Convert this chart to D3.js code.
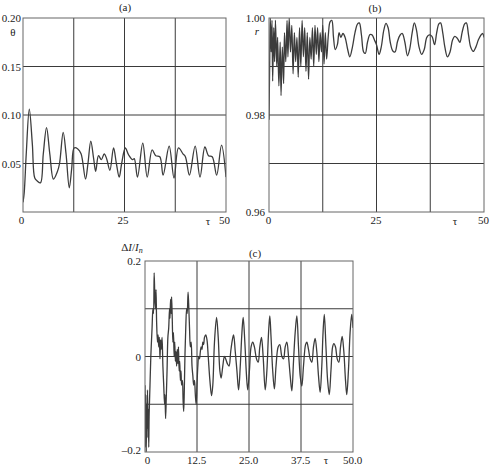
<!DOCTYPE html>
<html><head><meta charset="utf-8">
<script src="https://cdn.jsdelivr.net/npm/d3@7"></script>
<style>
html,body{margin:0;padding:0;background:#fff;}
svg{display:block;}
text{font-family:"Liberation Serif","Times New Roman",serif;font-size:11px;fill:#222;}
</style></head>
<body>
<svg id="chart" width="492" height="468" font-family="Liberation Serif, Times New Roman, serif"></svg>
<script>
// ---------- DATA ----------
// Panel (a): theta vs tau
const aTau = [0,0.3,0.8,1.55,2.3,2.9,3.5,4.3,5.0,5.8,6.6,7.5,8.5,9.0,9.9,10.6,11.4,12.0,12.6,13.5,14.3,15.4,16.0,16.7,17.4,17.9,18.6,19.3,20.0,20.6,21.4,22.3,23.0,23.7,24.3,25.2,26.0,27.0,27.4,28.2,29.5,30.6,31.8,32.7,33.7,34.5,36.0,37.2,38.3,39.4,40.0,41.0,42.4,43.6,44.8,45.7,46.6,47.7,48.9,50];
const aTheta = [0.010,0.020,0.060,0.106,0.070,0.035,0.032,0.030,0.060,0.087,0.060,0.034,0.042,0.050,0.082,0.060,0.025,0.045,0.066,0.065,0.060,0.034,0.050,0.073,0.055,0.042,0.058,0.054,0.060,0.055,0.043,0.066,0.050,0.036,0.050,0.066,0.059,0.054,0.055,0.036,0.071,0.036,0.064,0.058,0.057,0.038,0.068,0.035,0.066,0.060,0.057,0.038,0.068,0.036,0.067,0.058,0.057,0.038,0.069,0.036];

// Panel (b): r vs tau
const bTau = [0,0.15,0.3,0.5,0.7,0.85,1.1,1.3,1.5,1.8,2.0,2.3,2.6,2.8,3.1,3.4,3.6,3.9,4.2,4.4,4.7,5.0,5.3,5.6,5.9,6.2,6.5,6.8,7.1,7.4,7.7,8.0,8.3,8.6,8.9,9.2,9.5,9.8,10.1,10.4,10.7,11.0,11.3,11.6,11.9,12.2,12.5,12.8,13.1,13.4,13.8,14.2,14.6,15.0,15.4,15.9,16.3,16.7,17.2,17.7,18.3,18.8,19.4,20.0,20.6,21.0,21.5,22.0,22.4,22.9,23.5,24.0,24.5,25.0,25.6,26.1,26.7,27.2,27.7,28.2,28.8,29.3,29.9,30.5,31.0,31.6,32.2,32.7,33.3,33.8,34.3,34.9,35.5,36.1,36.7,37.3,37.9,38.5,39.0,39.5,39.9,40.4,40.9,41.5,42.1,42.7,43.2,43.8,44.4,44.9,45.5,45.9,46.4,46.9,47.5,48.1,48.7,49.3,49.7,50.0];
const bR = [0.979,0.990,1.000,0.993,0.9995,0.987,0.998,0.991,0.9995,0.990,0.996,0.986,0.995,0.984,0.994,0.9865,0.997,0.991,0.9995,0.992,1.000,0.993,0.9985,0.9885,0.997,0.991,0.996,0.9878,0.998,0.990,0.9995,0.992,0.998,0.989,0.997,0.9874,0.996,0.9915,0.998,0.990,0.9985,0.9925,0.998,0.991,0.997,0.993,0.9985,0.9905,0.997,0.9915,0.9965,0.9992,0.9995,0.996,0.9935,0.9945,0.997,0.996,0.9968,0.996,0.9935,0.992,0.994,0.997,0.9988,0.999,0.9965,0.993,0.9927,0.995,0.9966,0.9965,0.9955,0.9945,0.9925,0.994,0.9975,0.9989,0.998,0.995,0.9932,0.993,0.9952,0.9965,0.9968,0.995,0.9922,0.9935,0.997,0.999,0.9975,0.994,0.9925,0.9935,0.996,0.9965,0.9962,0.9945,0.997,0.9988,0.999,0.997,0.994,0.992,0.993,0.9955,0.9962,0.9958,0.995,0.997,0.9988,0.999,0.9965,0.994,0.9931,0.994,0.9955,0.9965,0.9968,0.996];

// Panel (c): ΔI/In vs tau
const cTau = [0.0,0.1,0.2,0.3,0.4,0.5,0.6,0.7,0.8,0.9,1.0,1.2,1.4,1.7,1.9,2.05,2.2,2.35,2.5,2.65,2.8,3.0,3.15,3.3,3.45,3.6,3.75,3.9,4.1,4.3,4.5,4.7,4.8,4.95,5.1,5.3,5.5,5.7,5.9,6.0,6.15,6.3,6.4,6.55,6.7,6.85,7.0,7.15,7.3,7.45,7.6,7.75,7.9,8.05,8.2,8.35,8.5,8.65,8.8,9.0,9.15,9.3,9.45,9.6,9.8,10.0,10.15,10.35,10.5,10.7,10.9,11.1,11.3,11.5,11.7,11.9,12.1,12.3,12.5,12.7,12.9,13.1,13.3,13.5,13.7,13.9,14.1,14.3,14.6,14.9,15.2,15.6,16.0,16.3,16.7,17.2,17.6,18.0,18.3,18.7,19.1,19.4,19.8,20.2,20.6,21.0,21.3,21.7,22.1,22.5,22.9,23.3,23.6,24.0,24.4,24.7,25.1,25.5,25.9,26.3,26.8,27.2,27.6,28.0,28.4,28.9,29.3,29.7,30.0,30.3,30.7,31.1,31.5,32.0,32.4,32.9,33.3,33.7,34.1,34.5,34.9,35.3,35.7,36.1,36.5,36.9,37.3,37.7,38.1,38.6,38.9,39.3,39.7,40.1,40.5,40.9,41.3,41.7,42.1,42.5,42.8,43.1,43.5,43.9,44.3,44.7,45.1,45.4,45.8,46.2,46.6,47.0,47.4,47.8,48.2,48.5,48.9,49.3,49.7,50.0];
const cDI = [-0.06,-0.19,-0.08,-0.20,-0.10,-0.17,-0.07,-0.15,-0.11,-0.19,-0.12,-0.06,0.0,0.06,0.10,0.09,0.175,0.13,0.10,0.14,0.07,0.03,0.045,0.02,0.04,-0.005,0.035,0.015,0.04,-0.02,-0.06,-0.10,-0.08,-0.13,-0.09,-0.03,0.04,0.06,0.10,0.08,0.12,0.09,0.125,0.08,0.03,0.05,0.0,0.03,-0.01,0.01,-0.02,0.015,-0.015,0.02,-0.03,-0.01,-0.05,-0.03,-0.06,-0.05,-0.09,-0.115,-0.07,0.0,0.06,0.10,0.09,0.135,0.11,0.06,0.02,0.03,-0.02,-0.04,-0.06,-0.05,-0.08,-0.10,-0.06,-0.02,0.0,-0.005,0.01,0.02,0.015,0.03,0.025,0.04,0.045,0.035,0.0,-0.05,-0.082,-0.06,0.03,0.082,0.04,-0.03,-0.045,-0.02,0.0,-0.005,-0.015,-0.02,0.01,0.035,0.045,0.01,-0.03,-0.07,-0.02,0.05,0.082,0.03,-0.04,-0.07,-0.03,0.02,0.03,0.02,-0.005,-0.012,0.02,0.04,0.0,-0.07,-0.03,0.05,0.085,0.04,-0.03,-0.068,-0.02,0.02,0.025,0.0,-0.005,0.02,0.03,0.0,-0.04,-0.072,-0.01,0.05,0.085,0.02,-0.04,-0.062,-0.02,0.025,0.03,0.015,-0.005,-0.012,0.02,0.038,0.01,-0.04,-0.075,-0.02,0.05,0.088,0.02,-0.05,-0.08,-0.03,0.02,0.027,0.02,-0.005,-0.012,0.02,0.042,0.01,-0.05,-0.08,-0.03,0.05,0.088,0.06];

// Tick labels
const aYTicks = [0.05,0.10,0.15,0.20];
const aXTicks = [0,25,50];
const bYTicks = [0.96,0.98,1.00];
const bXTicks = [0,25,50];
const cYTicks = [-0.2,0,0.2];
const cXTicks = [0,12.5,25,37.5,50];

// ---------- DRAW ----------
const svg = d3.select("#chart");
const defs = svg.append("defs");

function panel(cfg){
  const x = d3.scaleLinear().domain([0,50]).range([cfg.x0,cfg.x1]);
  const y = d3.scaleLinear().domain(cfg.yDomain).range([cfg.y1,cfg.y0]);
  const g = svg.append("g");
  g.selectAll(".gx").data(cfg.gridX).join("line")
    .attr("x1",d=>x(d)).attr("x2",d=>x(d)).attr("y1",cfg.y0).attr("y2",cfg.y1)
    .attr("stroke","#3a3a3a").attr("stroke-width",1);
  g.selectAll(".gy").data(cfg.gridY).join("line")
    .attr("y1",d=>y(d)).attr("y2",d=>y(d)).attr("x1",cfg.x0).attr("x2",cfg.x1)
    .attr("stroke","#3a3a3a").attr("stroke-width",1);
  defs.append("clipPath").attr("id","clip"+cfg.id).append("rect")
    .attr("x",cfg.x0).attr("y",cfg.y0).attr("width",cfg.x1-cfg.x0).attr("height",cfg.y1-cfg.y0);
  const pts = cfg.t.map((t,i)=>[t,cfg.v[i]]);
  const line = d3.line().x(d=>x(d[0])).y(d=>y(d[1])).curve(d3.curveCatmullRom.alpha(0.5));
  g.append("path").datum(pts).attr("d",line).attr("fill","none")
    .attr("stroke","#3c3c3c").attr("stroke-width",1.3).attr("stroke-linejoin","round")
    .attr("clip-path","url(#clip"+cfg.id+")");
  g.append("rect").attr("x",cfg.x0).attr("y",cfg.y0).attr("width",cfg.x1-cfg.x0).attr("height",cfg.y1-cfg.y0)
    .attr("fill","none").attr("stroke","#666").attr("stroke-width",1);
  const ya = g.append("g").attr("transform",`translate(${cfg.x0},0)`)
    .call(d3.axisLeft(y).tickValues(cfg.yTicks).tickSize(0).tickPadding(cfg.yPad).tickFormat(cfg.yFmt));
  ya.attr("font-family",null).attr("font-size",null);
  ya.select(".domain").remove();
  const xa = g.append("g").attr("transform",`translate(${cfg.xShift},${cfg.y1})`)
    .call(d3.axisBottom(x).tickValues(cfg.xTicks).tickSize(0).tickPadding(4).tickFormat(cfg.xFmt));
  xa.attr("font-family",null).attr("font-size",null);
  xa.select(".domain").remove();
  g.append("text").attr("x",cfg.title[1]).attr("y",cfg.title[2]).attr("text-anchor","middle").text(cfg.title[0]);
  g.append("text").attr("x",cfg.tau[0]).attr("y",cfg.tau[1]).attr("text-anchor","middle").text("τ");
  return {g,ya,xa};
}

panel({id:"a",x0:23,x1:226,y0:18,y1:212,yDomain:[0,0.2],gridX:[12.5,25,37.5],gridY:[0.05,0.1,0.15],
  t:aTau,v:aTheta,yTicks:aYTicks,yPad:2,yFmt:d3.format(".2f"),xTicks:aXTicks,xFmt:d3.format("d"),xShift:-2,
  title:["(a)",125,11],tau:[208,225]});
panel({id:"b",x0:269,x1:484,y0:18,y1:212,yDomain:[0.96,1.0],gridX:[12.5,25,37.5],gridY:[0.97,0.98,0.99],
  t:bTau,v:bR,yTicks:bYTicks,yPad:4,yFmt:d3.format(".2f"),xTicks:bXTicks,xFmt:d3.format("d"),xShift:-1,
  title:["(b)",375,12],tau:[455,225]});
const pc = panel({id:"c",x0:145,x1:353,y0:261,y1:452,yDomain:[-0.2,0.2],gridX:[12.5,25,37.5],gridY:[-0.1,0,0.1],
  t:cTau,v:cDI,yTicks:cYTicks,yPad:4,yFmt:d=>d===0?"0":(d<0?"–":"")+Math.abs(d).toFixed(1),
  xTicks:cXTicks,xFmt:d=>d===0?"0":d.toFixed(1),xShift:-1,title:["(c)",255,257],tau:[326,464]});
pc.xa.selectAll("text").filter(d=>d===0).attr("dx",3);
pc.ya.selectAll("text").filter(d=>d===-0.2).attr("dy","0.1em");

// axis names
svg.append("text").attr("x",13).attr("y",36).attr("text-anchor","middle").text("θ");
svg.append("text").attr("x",257).attr("y",35).attr("text-anchor","middle").attr("font-style","italic").text("r");
const yl = svg.append("text").attr("x",132).attr("y",251).attr("text-anchor","middle");
yl.append("tspan").text("Δ");
yl.append("tspan").attr("font-style","italic").text("I");
yl.append("tspan").text("/");
yl.append("tspan").attr("font-style","italic").text("I");
yl.append("tspan").attr("font-style","italic").attr("font-size","8px").attr("dy","2").text("n");
</script>
</body></html>
